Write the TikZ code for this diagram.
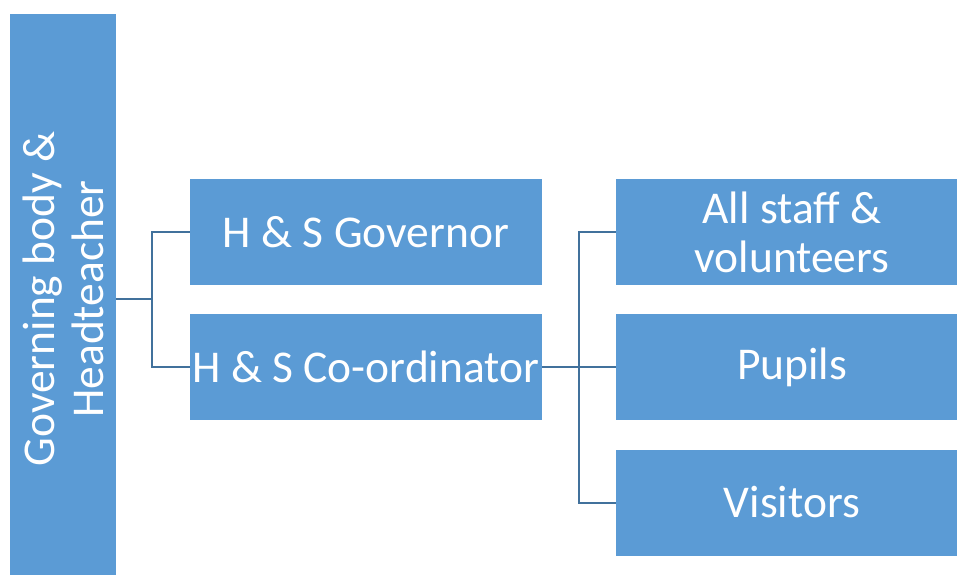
\documentclass[tikz,border=0pt]{standalone}
\usepackage{fontspec}
\setmainfont{Carlito}
\definecolor{boxblue}{HTML}{5B9BD5}
\definecolor{lineblue}{HTML}{41719C}
\begin{document}
\begin{tikzpicture}[x=1pt,y=-1pt,
  orgbox/.style={rectangle, fill=boxblue, draw=none, text=white, align=center,
    minimum width=352pt, minimum height=106pt, inner sep=0pt,
    font=\fontsize{45.5}{49}\selectfont},
  link/.style={draw=lineblue, line width=2pt}]
\useasboundingbox (0,0) rectangle (957,574);
\clip (0,0) rectangle (957,574);
\node[orgbox, rotate=90, minimum width=570pt, minimum height=106pt] (gb) at (63,299) {Governing body \&\\Headteacher};
\node[orgbox] (gov) at (366,232) {H \& S Governor};
\node[orgbox] (coord) at (366,367) {H \& S Co-ordinator};
\node[orgbox] (staff) at (792,232) {All staff \&\\volunteers};
\node[orgbox] (pupils) at (792,367) {Pupils};
\node[orgbox] (visitors) at (792,502.5) {Visitors};
\coordinate (j1) at (152,299);
\coordinate (j2) at (579,367);
\draw[link] (gb.south) -- (j1);
\draw[link] (j1) |- (gov.west);
\draw[link] (j1) |- (coord.west);
\draw[link] (coord.east) -- (j2);
\draw[link] (j2) |- (staff.west);
\draw[link] (j2) |- (pupils.west);
\draw[link] (j2) |- (visitors.west);
\end{tikzpicture}
\end{document}
